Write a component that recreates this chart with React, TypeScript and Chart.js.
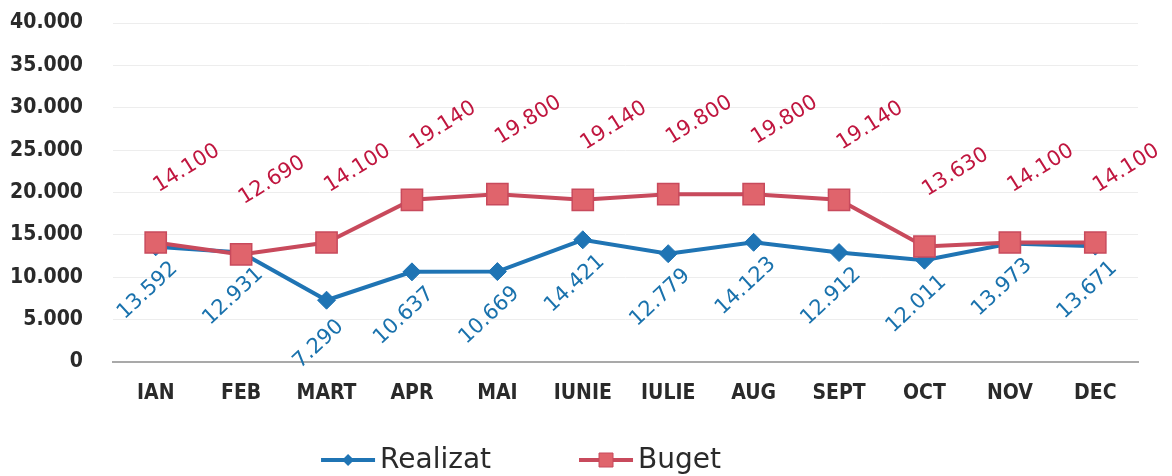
import React, { useEffect, useRef } from "react";
import { Chart, registerables } from "chart.js";

Chart.register(...registerables);

const months = ["IAN", "FEB", "MART", "APR", "MAI", "IUNIE", "IULIE", "AUG", "SEPT", "OCT", "NOV", "DEC"];
const realizat = [13592, 12931, 7290, 10637, 10669, 14421, 12779, 14123, 12912, 12011, 13973, 13671];
const buget = [14100, 12690, 14100, 19140, 19800, 19140, 19800, 19800, 19140, 13630, 14100, 14100];
const yTicks = [0, 5000, 10000, 15000, 20000, 25000, 30000, 35000, 40000];

const BLUE = "#1f74b4";
const BLUE_TEXT = "#1a72ad";
const RED_LINE = "#c84a5c";
const RED_FILL = "#e0646c";
const RED_TEXT = "#c0163f";
const TICK_FONT = "'DejaVu Sans Condensed', 'DejaVu Sans', sans-serif";

const fmt = (n: number) => n.toString().replace(/\B(?=(\d{3})+(?!\d))/g, ".");

const labelPlugin = {
  id: "rotLabels",
  afterDatasetsDraw(chart: any) {
    const ctx = chart.ctx;
    const cfg = [
      { idx: 0, color: BLUE_TEXT, dx: -8, dy: 44, rot: -43 },
      { idx: 1, color: RED_TEXT, dx: 31, dy: -74, rot: -32 },
    ];
    cfg.forEach((c) => {
      const meta = chart.getDatasetMeta(c.idx);
      const data = chart.data.datasets[c.idx].data as number[];
      meta.data.forEach((pt: any, i: number) => {
        ctx.save();
        ctx.translate(pt.x + c.dx, pt.y + c.dy);
        ctx.rotate((c.rot * Math.PI) / 180);
        ctx.font = "21px 'DejaVu Sans', sans-serif";
        ctx.fillStyle = c.color;
        ctx.textAlign = "center";
        ctx.textBaseline = "middle";
        ctx.fillText(fmt(data[i]), 0, 0);
        ctx.restore();
      });
    });
  },
};

const legendPlugin = {
  id: "lineLegend",
  afterDraw(chart: any) {
    const ctx = chart.ctx;
    const y = 460;
    const lineLen = 54;
    const gap = 5;
    const itemGap = 88;
    ctx.save();
    ctx.font = "28px 'DejaVu Sans', sans-serif";
    const items = chart.data.datasets.map((ds: any) => ({
      label: ds.label,
      color: ds.borderColor,
      fill: ds.pointBackgroundColor,
      style: ds.pointStyle,
      r: ds.legendRadius,
      w: ctx.measureText(ds.label).width,
    }));
    const total = items.reduce((s: number, it: any) => s + lineLen + gap + it.w, 0) + itemGap * (items.length - 1);
    let x = 521 - total / 2;
    items.forEach((it: any) => {
      ctx.strokeStyle = it.color;
      ctx.lineWidth = 4;
      ctx.beginPath();
      ctx.moveTo(x, y);
      ctx.lineTo(x + lineLen, y);
      ctx.stroke();
      ctx.fillStyle = it.fill;
      ctx.beginPath();
      const cx = x + lineLen / 2;
      if (it.style === "rectRot") {
        ctx.moveTo(cx - it.r, y);
        ctx.lineTo(cx, y - it.r);
        ctx.lineTo(cx + it.r, y);
        ctx.lineTo(cx, y + it.r);
        ctx.closePath();
        ctx.fill();
      } else {
        ctx.rect(cx - it.r, y - it.r, it.r * 2, it.r * 2);
        ctx.fill();
        ctx.lineWidth = 1;
        ctx.stroke();
      }
      ctx.fillStyle = "#2a2a2a";
      ctx.textAlign = "left";
      ctx.textBaseline = "middle";
      ctx.fillText(it.label, x + lineLen + gap, y + 1);
      x += lineLen + gap + it.w + itemGap;
    });
    ctx.restore();
  },
};

export default function App() {
  const ref = useRef<HTMLCanvasElement>(null);
  useEffect(() => {
    if (!ref.current) return;
    const chart = new Chart(ref.current, {
      type: "line",
      data: {
        labels: months,
        datasets: [
          {
            label: "Realizat",
            data: realizat,
            borderColor: BLUE,
            backgroundColor: BLUE,
            pointBackgroundColor: BLUE,
            pointBorderColor: BLUE,
            pointStyle: "rectRot",
            pointRadius: 9,
            pointBorderWidth: 1,
            borderWidth: 4,
            tension: 0,
            order: 2,
            legendRadius: 6,
          } as any,
          {
            label: "Buget",
            data: buget,
            borderColor: RED_LINE,
            backgroundColor: RED_FILL,
            pointBackgroundColor: RED_FILL,
            pointBorderColor: RED_LINE,
            pointStyle: "rect",
            pointRadius: 15,
            pointBorderWidth: 1.5,
            borderWidth: 4,
            tension: 0,
            order: 1,
            legendRadius: 7,
          } as any,
        ],
      },
      options: {
        animation: false,
        responsive: false,
        maintainAspectRatio: false,
        layout: { padding: { left: 8, right: 34, top: 23, bottom: 70 } },
        plugins: {
          legend: { display: false },
          tooltip: { enabled: false },
        },
        scales: {
          x: {
            offset: true,
            grid: { display: false, drawTicks: false },
            border: { display: true, color: "#a9a9a9", width: 2 },
            afterFit: (axis: any) => {
              axis.height = 44;
              axis.paddingTop = 0;
              axis.paddingBottom = 0;
            },
            ticks: {
              padding: 19,
              color: "#2a2a2a",
              font: { family: TICK_FONT, size: 21, weight: "bold" },
              maxRotation: 0,
            },
          },
          y: {
            min: 0,
            max: 40000,
            afterBuildTicks: (axis: any) => {
              axis.ticks = yTicks.map((v) => ({ value: v }));
            },
            afterFit: (axis: any) => {
              axis.width = 105;
              axis.paddingTop = 0;
              axis.paddingBottom = 0;
            },
            grid: { color: "#ededed", lineWidth: 1, drawTicks: false },
            border: { display: false },
            ticks: {
              padding: 30,
              color: "#2a2a2a",
              font: { family: TICK_FONT, size: 21, weight: "bold" },
              callback: (v: any) => fmt(Number(v)),
            },
          },
        },
      },
      plugins: [labelPlugin, legendPlugin],
    });
    return () => chart.destroy();
  }, []);
  return (
    <div style={{ position: "fixed", left: 0, top: 0, width: 1172, height: 476, background: "#fff" }}>
      <canvas ref={ref} width={1172} height={476} style={{ display: "block" }} />
    </div>
  );
}
